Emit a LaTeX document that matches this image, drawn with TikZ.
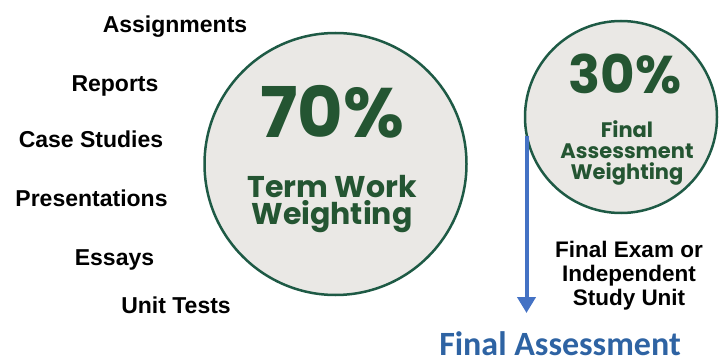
\documentclass[tikz,border=0pt]{standalone}
\usepackage{fontspec}
\usetikzlibrary{arrows.meta}
\newfontfamily\geofont{Poppins}
\newfontfamily\arialfont{Liberation Sans}
\newfontfamily\califont{Carlito}
\definecolor{ringgreen}{HTML}{1E5A45}
\definecolor{textgreen}{HTML}{245532}
\definecolor{discgray}{HTML}{EAE8E5}
\definecolor{arrowblue}{HTML}{4472C4}
\definecolor{titleblue}{HTML}{2E63A3}
\tikzset{
  disc/.style={circle, draw=ringgreen, line width=2.5pt, fill=discgray, inner sep=0pt},
  worklabel/.style={anchor=base, inner sep=0pt, font=\arialfont\bfseries\fontsize{23}{26}\selectfont},
  examlabel/.style={anchor=base, inner sep=0pt, align=center, font=\arialfont\bfseries\fontsize{22.5}{24}\selectfont},
  bigpct/.style={anchor=base, inner sep=0pt, text=textgreen, font=\geofont\bfseries\fontsize{#1}{#1}\selectfont},
  weightlabel/.style 2 args={anchor=base, inner sep=0pt, align=center, text=textgreen, font=\geofont\bfseries\fontsize{#1}{#2}\selectfont}
}
\begin{document}
\begin{tikzpicture}[x=1pt, y=-1pt]
\useasboundingbox (0,0) rectangle (720,358);
\node[disc, minimum size=262pt] (termdisc) at (335.5,164) {};
\node[disc, minimum size=192pt] (finaldisc) at (621,117) {};
\node[bigpct=70] (termpct) at (332,138) {70\%};
\node[weightlabel={30}{28}] (termtext) at (332,225) {Term Work\\Weighting};
\node[bigpct=53] (finalpct) at (625,94) {30\%};
\node[weightlabel={21}{21}] (finaltext) at (627,180) {Final\\Assessment\\Weighting};
\node[worklabel] (assign) at (175,33) {Assignments};
\node[worklabel] (reports) at (115,92) {Reports};
\node[worklabel] (cases) at (91,148) {Case Studies};
\node[worklabel] (present) at (91.5,207) {Presentations};
\node[worklabel] (essays) at (114.5,265) {Essays};
\node[worklabel] (tests) at (176,313) {Unit Tests};
\node[examlabel] (examtext) at (629,305) {Final Exam or\\Independent\\Study Unit};
\node[anchor=base, inner sep=0pt, text=titleblue, font=\califont\bfseries\fontsize{34}{34}\selectfont] (finalassess) at (560,355) {Final Assessment};
\coordinate (arrowtop) at (526.5,136);
\coordinate (arrowend) at (526.5,313);
\draw[arrowblue, line width=4pt, -{Triangle[width=18pt,length=16pt]}] (arrowtop) -- (arrowend);
\end{tikzpicture}
\end{document}
